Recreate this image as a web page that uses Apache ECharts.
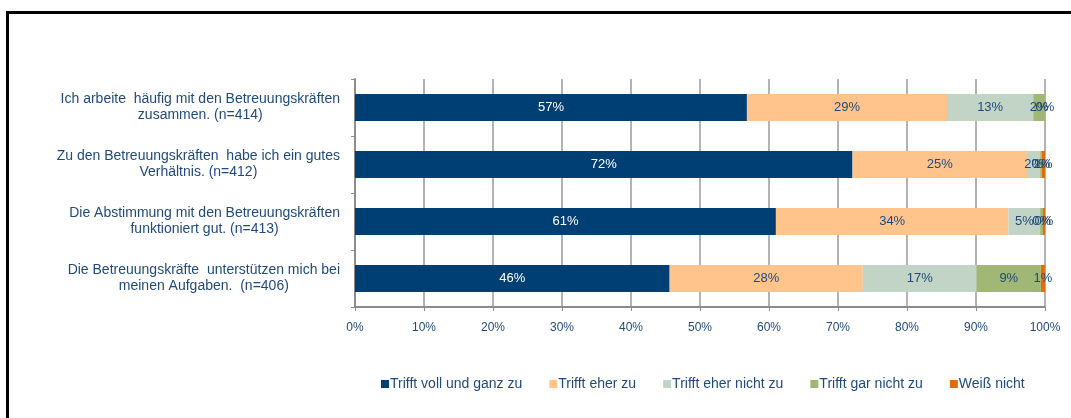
<!DOCTYPE html>
<html>
<head>
<meta charset="utf-8">
<script src="https://cdn.jsdelivr.net/npm/echarts@6/dist/echarts.min.js"></script>
<style>
html,body{margin:0;padding:0;background:#fff;}
#frame{position:absolute;left:6px;top:11px;width:1100px;height:500px;border-left:3px solid #000;border-top:3px solid #000;}
#chart{position:absolute;left:0;top:0;width:1071px;height:418px;}
</style>
</head>
<body>
<div id="frame"></div>
<div id="chart"></div>
<script>
const categories = [
  "Ich arbeite  häufig mit den Betreuungskräften\nzusammen. (n=414)",
  "Zu den Betreuungskräften  habe ich ein gutes\nVerhältnis. (n=412)",
  "Die Abstimmung mit den Betreuungskräften\nfunktioniert gut. (n=413)",
  "Die Betreuungskräfte  unterstützen mich bei\nmeinen Aufgaben.  (n=406)"
];
const seriesNames = ["Trifft voll und ganz zu", "Trifft eher zu", "Trifft eher nicht zu", "Trifft gar nicht zu", "Weiß nicht"];
const vollUndGanz = [56.8, 72.1, 61.0, 45.6];
const eher = [29.0, 25.3, 33.7, 28.0];
const eherNicht = [12.5, 1.9, 4.6, 16.5];
const garNicht = [1.7, 0.2, 0.4, 9.3];
const weissNicht = [0.0, 0.5, 0.3, 0.6];
const xTicks = [0, 10, 20, 30, 40, 50, 60, 70, 80, 90, 100];

const colors = ["#003F73", "#FFC48C", "#C2D4C6", "#A1B774", "#E46C0A"];
const textColor = "#1F4A7C";
const font = "Liberation Sans";
const data = [vollUndGanz, eher, eherNicht, garNicht, weissNicht];

const chart = echarts.init(document.getElementById('chart'));
chart.setOption({
  animation: false,
  textStyle: { fontFamily: font },
  grid: { left: 355, right: 26, top: 79, bottom: 111 },
  legend: {
    top: 372, left: 376,
    icon: 'rect', itemWidth: 8, itemHeight: 8, itemGap: 27,
    textStyle: { color: textColor, fontSize: 14, fontFamily: font, padding: [0, 0, 0, -4] },
    data: seriesNames
  },
  xAxis: {
    type: 'value', min: xTicks[0], max: xTicks[xTicks.length - 1], interval: 10,
    axisLine: { show: true, lineStyle: { color: '#8c8c8c', width: 2 } },
    axisTick: { show: true, length: 4, lineStyle: { color: '#8c8c8c', width: 1 } },
    splitLine: { show: true, lineStyle: { color: '#9a9a9a', width: 1.5 } },
    axisLabel: { color: textColor, fontSize: 12, margin: 15, fontFamily: font,
      formatter: v => v + '%' }
  },
  yAxis: {
    type: 'category', inverse: true, data: categories,
    axisLine: { show: true, lineStyle: { color: '#8c8c8c', width: 2 } },
    axisTick: { show: true, length: 4, lineStyle: { color: '#8c8c8c', width: 1 } },
    axisLabel: {
      margin: 15, align: 'right', fontFamily: font,
      formatter: v => v.split('\n').map(l => '{c|' + l + '}').join('\n'),
      rich: { c: { align: 'center', color: textColor, fontSize: 14, lineHeight: 16, fontFamily: font } }
    }
  },
  series: seriesNames.map((name, i) => ({
    name: name, type: 'bar', stack: 'total', barWidth: 27,
    data: data[i],
    itemStyle: { color: colors[i] },
    label: {
      show: true, position: 'inside', fontSize: 13, fontFamily: font,
      color: i === 0 ? '#ffffff' : textColor,
      formatter: p => Math.round(p.value) + '%'
    }
  }))
});
</script>
</body>
</html>
